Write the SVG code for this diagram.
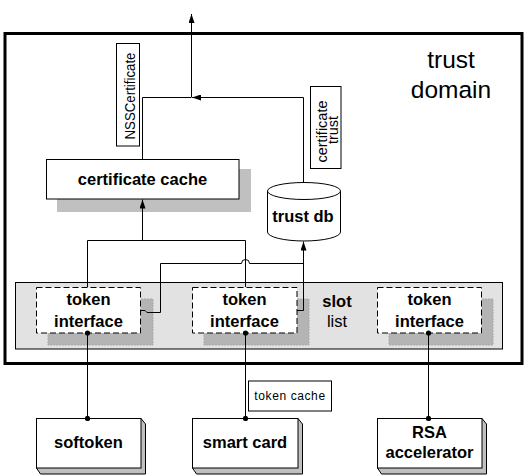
<svg xmlns="http://www.w3.org/2000/svg" width="528" height="476" viewBox="0 0 528 476">
<style>
text{font-family:"Liberation Sans",Arial,sans-serif;fill:#000}
.b{font-weight:bold;font-size:16.5px}
.r{font-size:16.5px}
.box{fill:#fff;stroke:#000;stroke-width:1}
.dash{fill:#fff;stroke:#000;stroke-width:1;stroke-dasharray:6,3}
.tsh{fill:#b4b4b4;stroke:#a8a8a8;stroke-width:1;stroke-dasharray:2,1}
.side{fill:#c0c0c0;stroke:#000;stroke-width:1}
.ln{fill:none;stroke:#000;stroke-width:1}
.lbl{fill:#fff;stroke:#000;stroke-width:1}
</style>
<defs>
<marker id="arr" viewBox="0 0 9 6" refX="9" refY="3" markerWidth="9" markerHeight="6" markerUnits="userSpaceOnUse" orient="auto">
<path d="M0,0 L9,3 L0,6 Z" fill="#000"/>
</marker>
<marker id="dot" viewBox="0 0 6 6" refX="3" refY="3" markerWidth="6" markerHeight="6" markerUnits="userSpaceOnUse">
<circle cx="3" cy="3" r="2.6" fill="#000"/>
</marker>
</defs>
<rect width="528" height="476" fill="#fff"/>

<g id="trust-domain">
<rect x="5" y="33.5" width="517" height="330" fill="#fff" stroke="#000" stroke-width="3"/>
<text x="451" y="68" font-size="24.5px" text-anchor="middle">trust</text>
<text x="451" y="98" font-size="24.5px" text-anchor="middle">domain</text>
</g>

<g id="slot-list">
<rect x="15.5" y="282.5" width="487" height="66.5" fill="#e2e2e2" stroke="#000" stroke-width="1"/>
<text x="337" y="307" class="b" text-anchor="middle">slot</text>
<text x="337" y="327" class="r" text-anchor="middle">list</text>
</g>

<g id="certificate-cache">
<rect x="57" y="169" width="194" height="43" fill="#c0c0c0"/>
<rect x="46.5" y="159.5" width="192.5" height="39.5" class="box"/>
<text x="142.5" y="185" class="b" text-anchor="middle">certificate cache</text>
</g>

<g id="trust-db">
<path d="M267.5,191 V232 A36.5,9 0 0 0 340.5,232 V191" class="box"/>
<ellipse cx="304" cy="191" rx="36.5" ry="8.5" class="box"/>
<text x="303" y="222" class="b" text-anchor="middle">trust db</text>
</g>

<g id="token-interface-1">
<rect x="48" y="299" width="105" height="46" class="tsh"/>
<rect x="36.5" y="287.5" width="104" height="45.5" class="dash"/>
<text x="88.5" y="305" class="b" text-anchor="middle">token</text>
<text x="88.5" y="327" class="b" text-anchor="middle">interface</text>
</g>

<g id="token-interface-2">
<rect x="204" y="299" width="105" height="46" class="tsh"/>
<rect x="192.5" y="287.5" width="104.5" height="45.5" class="dash"/>
<text x="244.5" y="305" class="b" text-anchor="middle">token</text>
<text x="244.5" y="327" class="b" text-anchor="middle">interface</text>
</g>

<g id="token-interface-3">
<rect x="389" y="299" width="104" height="46" class="tsh"/>
<rect x="377.5" y="287.5" width="104" height="45.5" class="dash"/>
<text x="429.5" y="305" class="b" text-anchor="middle">token</text>
<text x="429.5" y="327" class="b" text-anchor="middle">interface</text>
</g>

<g id="softoken">
<path d="M141,418.5 L145.5,424 V474 H40.5 L36.5,468 Z" class="side"/>
<rect x="36.5" y="418.5" width="104.5" height="49.5" class="box"/>
<text x="88.5" y="448" class="b" text-anchor="middle">softoken</text>
</g>

<g id="smart-card">
<path d="M298,418.5 L302.5,424 V474 H196.5 L192.5,468 Z" class="side"/>
<rect x="192.5" y="418.5" width="105.5" height="49.5" class="box"/>
<text x="245" y="448" class="b" text-anchor="middle">smart card</text>
</g>

<g id="rsa-accelerator">
<path d="M482,418.5 L486.5,424 V474 H381.5 L377.5,468 Z" class="side"/>
<rect x="377.5" y="418.5" width="104.5" height="49.5" class="box"/>
<text x="429.5" y="437.5" class="b" text-anchor="middle">RSA</text>
<text x="429.5" y="458" class="b" text-anchor="middle">accelerator</text>
</g>

<g id="connectors">
<path d="M142.5,159 V97.5 H191" class="ln"/>
<path d="M303.5,183 V97.5 H192" class="ln" marker-end="url(#arr)"/>
<path d="M191.5,97.5 V14" class="ln" marker-end="url(#arr)"/>
<path d="M142.5,240.5 V199.5" class="ln" marker-end="url(#arr)"/>
<path d="M87.5,287 V240.5 H245.5 V287" class="ln"/>
<path d="M140.5,310.5 H145 L147,312.5 H160.5 V263.5 H241.5 A4,4 0 0 1 249.5,263.5 H303.5" class="ln"/>
<path d="M297,310.5 H303.5 V241.5" class="ln" marker-end="url(#arr)"/>
<path d="M87.5,333 V418.5" class="ln" marker-start="url(#dot)" marker-end="url(#dot)"/>
<path d="M245.5,333 V418.5" class="ln" marker-start="url(#dot)" marker-end="url(#dot)"/>
<path d="M428.5,333 V418.5" class="ln" marker-start="url(#dot)" marker-end="url(#dot)"/>
</g>

<g id="label-nsscertificate">
<rect x="116.5" y="43.5" width="23" height="102.5" class="lbl"/>
<text transform="translate(135,96) rotate(-90)" font-size="14px" text-anchor="middle" textLength="87" lengthAdjust="spacingAndGlyphs">NSSCertificate</text>
</g>

<g id="label-certificate-trust">
<rect x="310.5" y="86.5" width="30.5" height="82" class="lbl"/>
<text transform="translate(326.5,131.5) rotate(-90)" font-size="14.5px" text-anchor="middle">certificate</text>
<text transform="translate(338.3,130) rotate(-90)" font-size="14.5px" text-anchor="middle">trust</text>
</g>

<g id="label-token-cache">
<rect x="248.5" y="381" width="83" height="30" class="lbl"/>
<text x="290" y="399.5" font-size="12px" letter-spacing="0.6" text-anchor="middle">token cache</text>
</g>
</svg>
